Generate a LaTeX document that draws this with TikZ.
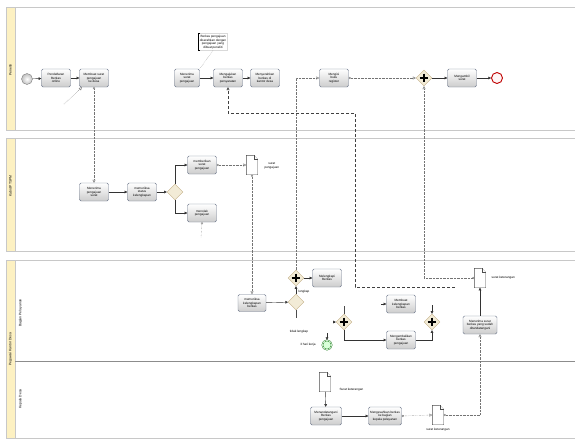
\documentclass[tikz,border=0pt]{standalone}
\usepackage{fontspec}
\setsansfont{Liberation Sans}
\usetikzlibrary{shapes.geometric,arrows.meta}
\definecolor{lanehead}{RGB}{253,241,194}
\definecolor{laneline}{RGB}{200,200,200}
\definecolor{gatefill}{RGB}{242,235,214}
\definecolor{gateline}{RGB}{195,175,135}
\definecolor{taskline}{RGB}{110,120,140}
\newcommand*{\DocIcon}[3]{% #1 = name, #2 = x, #3 = y
  \node [docbox] (#1) at (#2,#3) {};
  \draw [docline] (#1.south west) -- (#1.north west) -- ([xshift=-4pt]#1.north east)
    -- ([yshift=-4pt]#1.north east) -- (#1.south east) -- cycle;
  \draw [docline] ([xshift=-4pt]#1.north east) -- ([xshift=-4pt,yshift=-4pt]#1.north east)
    -- ([yshift=-4pt]#1.north east);
}

\begin{document}
\begin{tikzpicture}[x=1pt,y=-1pt,
        font=\sffamily\fontsize{3.1}{3.6}\selectfont,
        task/.style={draw=taskline, rounded corners=1.5pt, top color=white,
            bottom color=black!20, minimum width=29pt, minimum height=18pt,
            align=center, inner sep=0.5pt},
        gate/.style={diamond, draw=gateline, fill=gatefill, minimum size=16pt, inner sep=0pt},
        pgate/.style={gate, path picture={
            \draw[draw=black, line width=1.1pt] ([yshift=-3.5pt]path picture bounding box.north)
                -- ([yshift=3.5pt]path picture bounding box.south)
                ([xshift=3.5pt]path picture bounding box.west)
                -- ([xshift=-3.5pt]path picture bounding box.east);}},
        docbox/.style={minimum width=11pt, minimum height=19pt, inner sep=0pt},
        docline/.style={draw=black!70, fill=white, line width=0.4pt},
        startev/.style={circle, draw=black!50, inner color=white, outer color=black!25, minimum size=11pt},
        endev/.style={circle, draw=red!75!black, line width=0.9pt, fill=red!4, minimum size=11pt},
        timer/.style={circle, double, draw=green!45!black, fill=green!15, minimum size=9pt},
        seq/.style={draw=black!80, line width=0.4pt, -{Triangle[length=2.6pt,width=2.6pt]}},
        msg/.style={draw=black!55, densely dotted, line width=0.4pt,
            {Circle[open,length=2.2pt]}-{Triangle[open,length=3pt,width=3pt]}},
        msgend/.style={draw=black!55, densely dotted, line width=0.4pt, -{Triangle[open,length=3pt,width=3pt]}},
        assoc/.style={draw=black!45, densely dotted, line width=0.4pt},
        lanelabel/.style={rotate=90, font=\sffamily\fontsize{3.4}{4}\selectfont}]
    \useasboundingbox (0,0) rectangle (575,439);

    % pools and lanes
    \foreach \top/\bot in {7/130, 138/251, 260/438} {
        \draw[laneline, fill=white] (6,\top) rectangle (575,\bot);
        \draw[laneline, fill=lanehead] (6,\top) rectangle (15,\bot);
    }
    \draw[black!45, line width=0.7pt] (15,361) -- (575,361);
    \node[lanelabel] (lpeneliti) at (10.5,70) {Peneliti};
    \node[lanelabel] (lkabid) at (10.5,186) {Kabid PTSPM};
    \node[lanelabel] (lpegawai) at (10.5,349) {Pegawai Kantor Desa};
    \node[lanelabel] (lpelayanan) at (20.5,313) {Bagian Pelayanan};
    \node[lanelabel] (lkades) at (20.5,399) {Kepala Desa};

    % Peneliti
    \node[startev] (mulai) at (27,79) {};
    \node[task] (daftar) at (56,78) {Pendaftaran\\Berkas\\online};
    \node[task] (buatsurat) at (94,78) {Membuat surat\\pengajuan\\ke desa};
    \node[task, minimum width=25pt] (terimasurat) at (187,78) {Menerima\\surat\\pengajuan};
    \node[task] (ajukan) at (228,78) {Mengajukan\\berkas\\persyaratan};
    \node[task] (serahkan) at (265,78) {Menyerahkan\\berkas di\\kantor desa};
    \node[draw=black!15, fill=white, align=center, inner sep=1.5pt] (catatan) at (213,42)
        {Berkas pengajuan\\diserahkan dengan\\pengajuan yang\\dibuat peneliti};
    \draw[black] ([xshift=2pt]catatan.north west) -- (catatan.north west)
        -- (catatan.south west) -- ([xshift=2pt]catatan.south west);
    \node[task] (register) at (334,78) {Mengisi\\buku\\register};
    \node[pgate] (gabung) at (424,78) {};
    \node[task] (ambil) at (462,78) {Mengambil\\surat};
    \node[endev] (selesai) at (497,78) {};
    \draw[seq] (mulai) -- (daftar);
    \draw[seq] (daftar) -- (buatsurat);
    \draw[seq] (terimasurat) -- (ajukan);
    \draw[seq] (ajukan) -- (serahkan);
    \draw[seq] (gabung) -- (ambil);
    \draw[seq] (ambil) -- (selesai);
    \draw[assoc] (catatan.south) -- (terimasurat.north east);
    \draw[msg] (register.east) -- (gabung.west);
    \coordinate (pesanawal) at (64,104);
    \draw[msgend] (pesanawal) -- ([xshift=-12pt]buatsurat.south);

    % Kabid
    \node[task] (terimaaju) at (94,192) {Menerima\\pengajuan\\surat};
    \node[task] (periksastatus) at (142,192) {memeriksa\\status\\kelengkapan};
    \node[gate] (cekstatus) at (175,192) {};
    \node[task] (berisurat) at (202,165) {memberikan\\surat\\pengajuan};
    \node[task] (tolak) at (202,213) {menolak\\pengajuan};
    \DocIcon{suratpengajuan}{252}{165}
    \node[align=center, anchor=west] (lsuratpengajuan) at (261,166) {surat\\pengajuan};
    \draw[seq] (terimaaju) -- (periksastatus);
    \draw[seq] (periksastatus) -- (cekstatus);
    \draw[seq] (cekstatus.north) |- (berisurat.west);
    \draw[seq] (cekstatus.south) |- (tolak.west);
    \draw[msg] (berisurat.east) -- (suratpengajuan.west);
    \coordinate (tolakujung) at (201,238);
    \draw[assoc, {Circle[open,length=2.2pt]}-] (tolak.south) -- (tolakujung);
    \draw[msg] (buatsurat.south) -- (terimaaju.north);

    % Pegawai Kantor Desa / Bagian Pelayanan
    \node[task, minimum width=28pt, minimum height=17pt] (periksaberkas) at (252,303) {memeriksa\\kelengkapan\\berkas};
    \node[gate] (cekberkas) at (296,302) {};
    \node[pgate] (lengkapgate) at (296,278) {};
    \node[task] (lengkapi) at (327,278) {Melengkapi\\Berkas};
    \node[pgate] (bagi) at (344,322) {};
    \node[task] (buatlengkap) at (401,304) {Membuat\\kelengkapan\\berkas};
    \node[task] (kembalikan) at (401,340) {Mengembalikan\\berkas\\pengajuan};
    \node[pgate] (satukan) at (432,322) {};
    \node[task, minimum width=34pt] (terimattd) at (480,325) {Menerima surat\\berkas yang sudah\\ditandatangani};
    \DocIcon{suratket}{480}{278}
    \node[anchor=west] (lsuratket) at (488,278) {surat keterangan};
    \node[timer] (tunggu) at (327,345) {};
    \node (llengkap) at (304,292) {lengkap};
    \node (ltidak) at (299,332) {tidak lengkap};
    \node (lhari) at (308,345) {3 hari kerja};
    \draw[seq] (periksaberkas) -- (cekberkas);
    \draw[seq] (cekberkas) -- (lengkapgate);
    \draw[seq] (lengkapgate) -- (lengkapi);
    \draw[seq, line width=0.6pt] (bagi.south) |- (kembalikan.west);
    \draw[seq] (kembalikan.east) -| (satukan.south);
    \draw[seq] (terimattd) -- (suratket);
    \coordinate (cekujung) at (296,318);
    \draw[black!70, line width=0.4pt] (cekberkas.south) -- (cekujung);
    \coordinate (tungguawal) at (327,333);
    \draw[seq] (tungguawal) -- (tunggu);
    \coordinate (bagiawal) at (335,322);
    \draw[seq] (bagiawal) -- (bagi);
    \coordinate (bagiujung) at (344,306);
    \draw[black!70, line width=0.4pt] (bagi.north) -- (bagiujung);
    \coordinate (buatawal) at (381,304);
    \draw[seq] (buatawal) -- (buatlengkap);
    \coordinate (satuawal) at (432,305);
    \draw[seq] (satuawal) -- (satukan);
    \draw[msg] (suratpengajuan.south) -- (periksaberkas.north);
    \draw[msgend] (lengkapgate.north) |- (register.west);
    \draw[msg] (suratket.west) -| (gabung.south);
    \coordinate (garisawal) at (455,287);
    \draw[draw=black!75, densely dashed, line width=0.5pt, -{Triangle[open,length=3pt,width=3pt]}]
        (garisawal) -| (355,113) -| (ajukan.south);

    % Kepala Desa
    \DocIcon{suratkades}{325}{382}
    \node[anchor=west] (lsuratkades) at (336,390) {Surat keterangan};
    \node[task, minimum width=31pt] (tandatangan) at (326,416) {Menandatangani\\Berkas\\pengajuan};
    \node[task, minimum width=33pt] (sahkan) at (385,416) {Mengesahkan berkas\\ke bagian\\kepala pelayanan};
    \DocIcon{suratkeluar}{438}{415}
    \node (lsuratkeluar) at (438,430) {surat keterangan};
    \draw[seq] (suratkades) -- (tandatangan);
    \draw[seq] (tandatangan) -- (sahkan);
    \draw[msg] (sahkan.east) -- (suratkeluar.west);
    \draw[msg] (suratkeluar.east) -| (terimattd.south);
\end{tikzpicture}
\end{document}
